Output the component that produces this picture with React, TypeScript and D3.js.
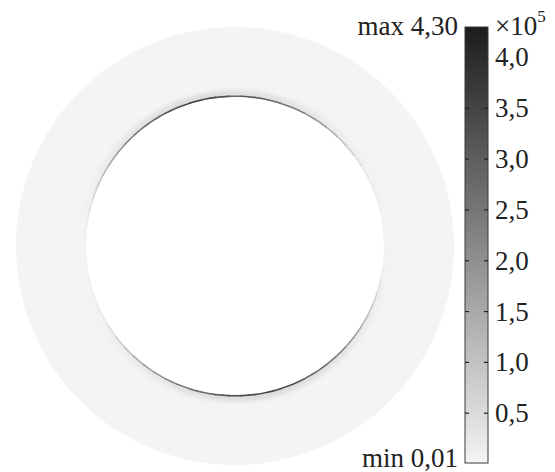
import React from "react";
import * as d3 from "d3";

// Stress along the inner boundary of the ring (×10^5), sampled every 5° (math angle, ccw from +x)
const edgeAngles: number[] = [
  0, 5, 10, 15, 20, 25, 30, 35, 40, 45, 50, 55, 60, 65, 70, 75, 80, 85,
  90, 95, 100, 105, 110, 115, 120, 125, 130, 135, 140, 145, 150, 155, 160, 165, 170, 175,
  180, 185, 190, 195, 200, 205, 210, 215, 220, 225, 230, 235, 240, 245, 250, 255, 260, 265,
  270, 275, 280, 285, 290, 295, 300, 305, 310, 315, 320, 325, 330, 335, 340, 345, 350, 355,
];
const edgeStress: number[] = [
  0.05, 0.05, 0.05, 0.1, 0.15, 0.2, 0.3, 0.5, 0.8, 1.1, 1.5, 1.9, 2.2, 2.5, 2.8, 3.0, 3.2, 3.4,
  3.1, 3.7, 3.8, 3.9, 3.8, 3.6, 3.3, 3.0, 2.7, 2.4, 2.0, 1.7, 1.3, 1.0, 0.7, 0.4, 0.2, 0.1,
  0.05, 0.05, 0.05, 0.1, 0.15, 0.2, 0.3, 0.5, 0.8, 1.1, 1.5, 1.9, 2.2, 2.5, 2.8, 3.0, 3.2, 3.4,
  3.7, 3.8, 3.9, 3.9, 3.8, 3.6, 3.3, 3.0, 2.7, 2.4, 2.0, 1.7, 1.3, 1.0, 0.7, 0.4, 0.2, 0.1,
];
const ringStress = 0.01;
const colorMin = 0.01;
const colorMax = 4.3;
const tickValues: number[] = [0.5, 1.0, 1.5, 2.0, 2.5, 3.0, 3.5, 4.0];
const tickLabels: string[] = ["0,5", "1,0", "1,5", "2,0", "2,5", "3,0", "3,5", "4,0"];
const maxLabel = "max 4,30";
const minLabel = "min 0,01";

const W = 555;
const H = 472;
const cx = 235;
const cy = 246;
const rOuter = 219;
const rInner = 149;
const barX = 465;
const barW = 23;
const barTop = 27;
const barBottom = 463;
const textStyle: React.CSSProperties = {
  fontFamily: '"Liberation Serif", "Times New Roman", Times, "DejaVu Serif", serif',
  fontSize: "27px",
  fill: "#222",
};

export default function App() {
  const color = d3
    .scaleLinear<string>()
    .domain([colorMin, colorMax])
    .range(["#f4f4f4", "#1c1c1c"])
    .interpolate(d3.interpolateRgb);
  const y = d3.scaleLinear().domain([colorMin, colorMax]).range([barBottom, barTop]);

  const ring = d3.arc()({
    innerRadius: rInner,
    outerRadius: rOuter,
    startAngle: 0,
    endAngle: 2 * Math.PI,
  } as any) as string;

  const step = 5;
  const seg = (a: number, r0: number, r1: number) => {
    const d = 90 - a;
    return d3.arc()({
      innerRadius: r0,
      outerRadius: r1,
      startAngle: ((d - step / 2 - 0.3) * Math.PI) / 180,
      endAngle: ((d + step / 2 + 0.3) * Math.PI) / 180,
    } as any) as string;
  };

  const gradStops = d3.range(0, 11).map((i) => {
    const v = colorMin + ((colorMax - colorMin) * i) / 10;
    return { offset: `${i * 10}%`, c: color(v) };
  });

  return (
    <svg width={W} height={H} style={{ position: "absolute", left: 0, top: 0 }}>
      <defs>
        <filter id="blur1" x="-10%" y="-10%" width="120%" height="120%">
          <feGaussianBlur stdDeviation="0.6" />
        </filter>
        <filter id="blur3" x="-10%" y="-10%" width="120%" height="120%">
          <feGaussianBlur stdDeviation="2.5" />
        </filter>
        <linearGradient id="cbar" x1="0" y1="1" x2="0" y2="0">
          {gradStops.map((s, i) => (
            <stop key={i} offset={s.offset} stopColor={s.c} />
          ))}
        </linearGradient>
        <clipPath id="ringClip">
          <path d={ring} transform={`translate(${cx},${cy})`} />
        </clipPath>
      </defs>
      <rect width={W} height={H} fill="#fff" />
      <g transform={`translate(${cx},${cy})`}>
        <path d={ring} fill={color(ringStress)} />
      </g>
      <g clipPath="url(#ringClip)">
        <g transform={`translate(${cx},${cy})`} filter="url(#blur3)" opacity={0.3}>
          {edgeAngles.map((a, i) => (
            <path key={i} d={seg(a, rInner, rInner + 6)} fill={color(edgeStress[i] * 0.5)} />
          ))}
        </g>
        <g transform={`translate(${cx},${cy})`} filter="url(#blur1)">
          {edgeAngles.map((a, i) => (
            <path key={i} d={seg(a, rInner - 0.3, rInner + 1.6)} fill={color(edgeStress[i] * 0.9)} />
          ))}
        </g>
      </g>

      {/* colour bar */}
      <rect
        x={barX}
        y={barTop}
        width={barW}
        height={barBottom - barTop}
        fill="url(#cbar)"
        stroke="#3a3a3a"
        strokeWidth={1}
      />
      {tickValues.map((v, i) => (
        <g key={i}>
          <line x1={barX} x2={barX + 4} y1={y(v)} y2={y(v)} stroke="#222" strokeWidth={1.2} />
          <line x1={barX + barW - 4} x2={barX + barW} y1={y(v)} y2={y(v)} stroke="#222" strokeWidth={1.2} />
          <text x={barX + barW + 7} y={y(v) + 9} style={textStyle}>
            {tickLabels[i]}
          </text>
        </g>
      ))}
      <text x={barX + 30} y={35} style={textStyle}>
        ×10
        <tspan dy={-13} style={{ fontSize: "17px" }}>5</tspan>
      </text>
      <text x={458} y={35} textAnchor="end" style={textStyle}>
        {maxLabel}
      </text>
      <text x={458} y={467} textAnchor="end" style={textStyle}>
        {minLabel}
      </text>
    </svg>
  );
}
